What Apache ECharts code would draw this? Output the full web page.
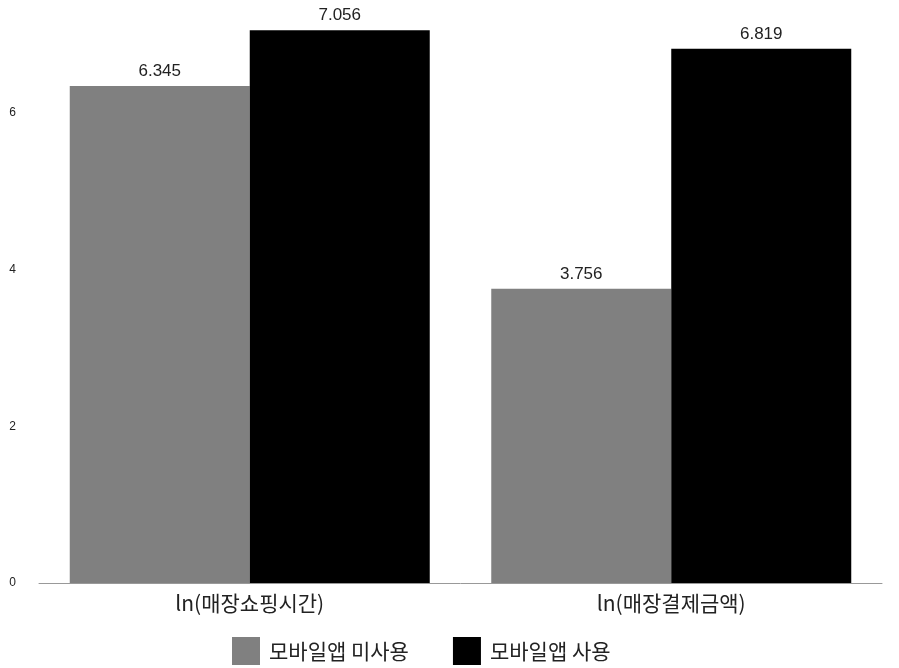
<!DOCTYPE html>
<html><head><meta charset="utf-8">
<script src="https://cdn.jsdelivr.net/npm/echarts@6/dist/echarts.min.js"></script>
<style>html,body{margin:0;padding:0;background:#fff}#c{width:899px;height:668px}</style>
</head><body><div id="c"></div>
<script>
const categories = ['ln(매장쇼핑시간)', 'ln(매장결제금액)'];
const seriesNames = ['모바일앱 미사용', '모바일앱 사용'];
const notUsing = [6.345, 3.756];
const using = [7.056, 6.819];
const yTicks = [0, 2, 4, 6];

const FONT = '"Liberation Sans", Arial, "Noto Sans CJK KR", sans-serif';
const KFONT = '"Noto Sans CJK KR", "Liberation Sans", sans-serif';
const chart = echarts.init(document.getElementById('c'), null, {renderer: 'canvas'});
const labelStyle = {show: true, position: 'top', distance: 6, fontSize: 17, color: '#222', fontFamily: FONT,
  formatter: p => p.value.toFixed(3)};
chart.setOption({
  animation: false,
  backgroundColor: '#fff',
  grid: {left: 39, right: 17, top: 19, bottom: 85, containLabel: false},
  legend: {
    left: 227, top: 632, itemWidth: 28, itemHeight: 28, itemGap: 44,
    icon: 'rect',
    textStyle: {fontSize: 21, color: '#222', fontFamily: KFONT, padding: [0, 0, 0, 4]},
    data: seriesNames
  },
  xAxis: {
    type: 'category', data: categories,
    axisLine: {lineStyle: {color: '#999', width: 1}},
    axisTick: {show: false},
    axisLabel: {fontSize: 21, color: '#222', fontFamily: KFONT, margin: 10}
  },
  yAxis: {
    type: 'value', min: 0, max: 7.2, interval: 2,
    splitLine: {show: false}, axisLine: {show: false}, axisTick: {show: false},
    axisLabel: {fontSize: 12, color: '#222', fontFamily: FONT, margin: 23, showMaxLabel: false,
      formatter: v => yTicks.includes(v) ? String(v) : ''}
  },
  series: [
    {name: seriesNames[0], type: 'bar', data: notUsing, barWidth: 180, barGap: '0%',
      itemStyle: {color: '#808080'}, label: labelStyle},
    {name: seriesNames[1], type: 'bar', data: using, barWidth: 180, barGap: '0%',
      itemStyle: {color: '#000000'}, label: labelStyle}
  ]
});
</script></body></html>
